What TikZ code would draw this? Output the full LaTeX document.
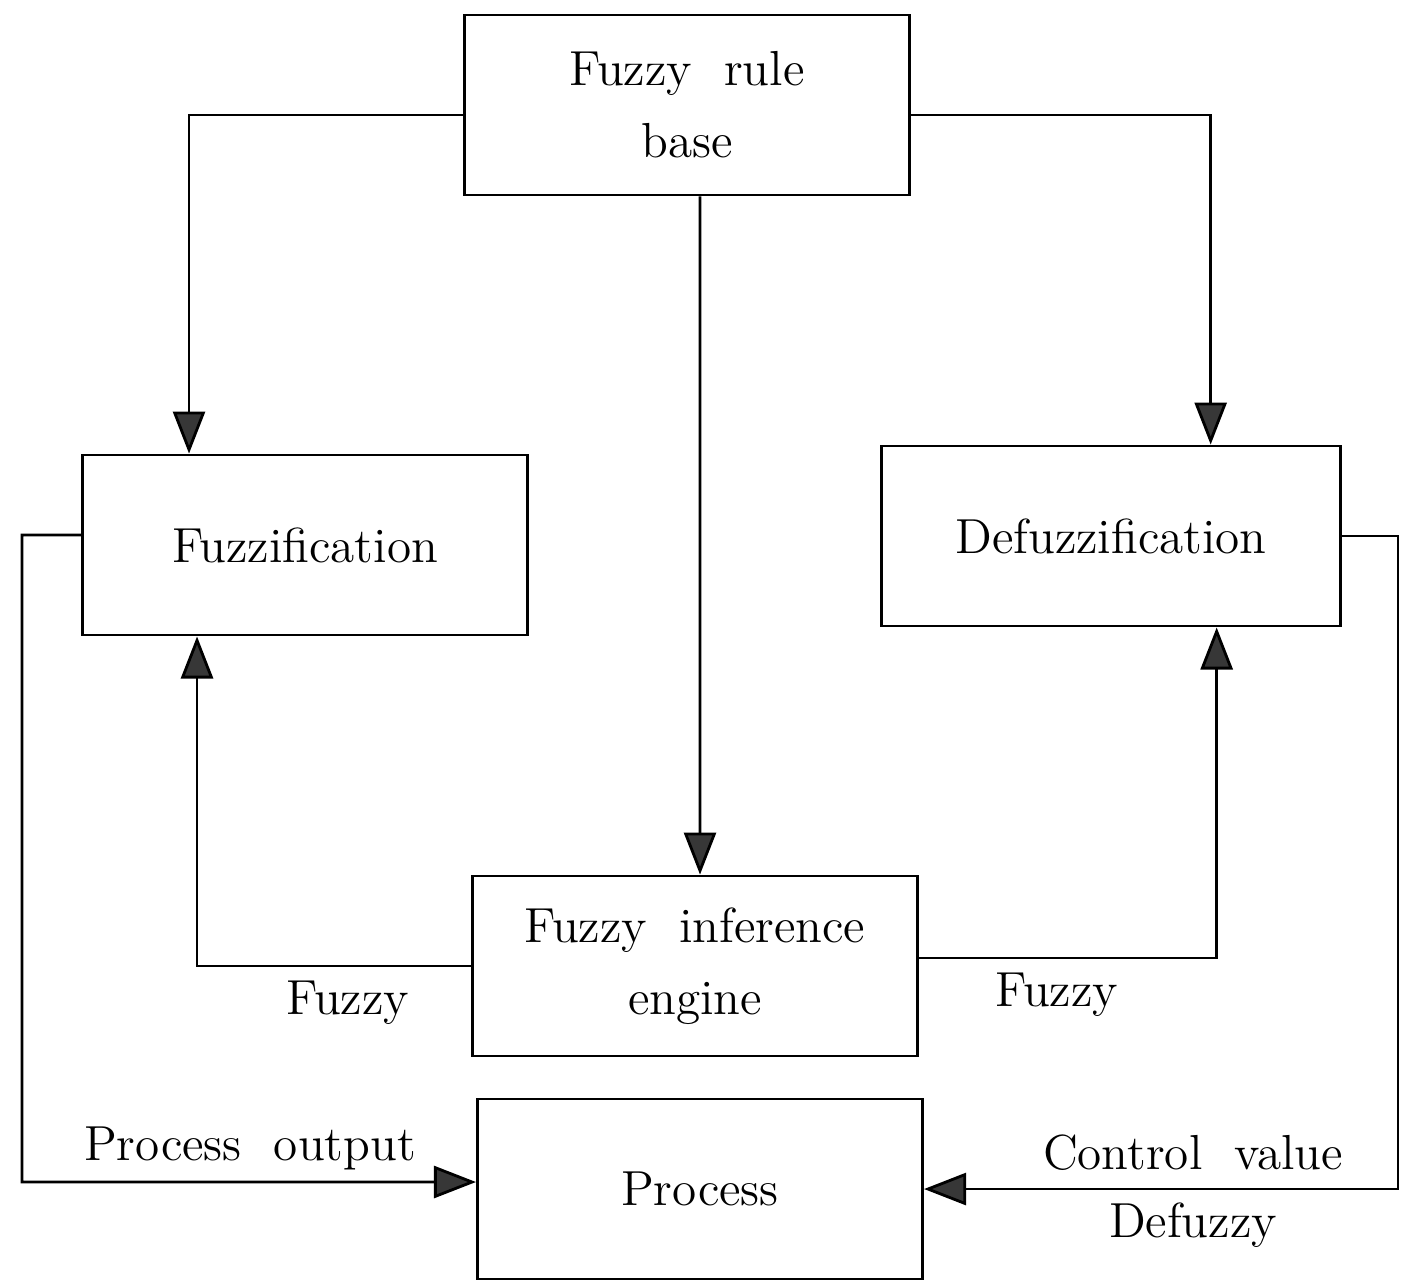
\documentclass[tikz,border=0pt]{standalone}
\usetikzlibrary{arrows.meta}
\definecolor{tipgray}{RGB}{55,55,55}
\begin{document}
\begin{tikzpicture}[x=0.01cm, y=-0.01cm, font=\fontsize{14}{20.5}\selectfont,
		block/.style={draw, line width=0.8pt, minimum width=4.45cm, minimum height=1.8cm, align=center},
		flow/.style={line width=0.8pt, -{Triangle[length=0.42cm, width=0.32cm, fill=tipgray]}}]
		\useasboundingbox (0,0) rectangle (1401,1281);
		% blocks, one x unit is one pixel of the figure
		\node[block] (rule) at (687,105) {Fuzzy\ \ rule\\base};
		\node[block] (fuzz) at (305,545) {Fuzzification};
		\node[block, minimum width=4.58cm] (defuzz) at (1111,536) {Defuzzification};
		\node[block] (infer) at (695,966) {Fuzzy\ \ inference\\engine};
		\node[block] (proc) at (700,1189) {Process};
		% corners of the outer loop
		\coordinate (loopL) at (22,1182);
		\coordinate (loopR) at (1398,1189);
		% rule base to the three stages
		\draw[flow] ([yshift=-0.1cm]rule.west) -| ([xshift=1.08cm]fuzz.north west);
		\draw[flow] ([yshift=-0.1cm]rule.east) -| ([xshift=3.3cm]defuzz.north west);
		\draw[flow] ([xshift=0.13cm]rule.south) -- ([xshift=0.05cm]infer.north);
		% inference engine back to both sides
		\draw[flow] (infer.west) -| ([xshift=1.16cm]fuzz.south west);
		\draw[flow] ([yshift=0.08cm]infer.east) -| ([xshift=3.36cm]defuzz.south west);
		\node (fuzzyL) at (348,1003) {Fuzzy};
		\node (fuzzyR) at (1057,995) {Fuzzy};
		% outer loop through the process
		\draw[flow] ([yshift=0.1cm]fuzz.west) -| (loopL) -- ([yshift=0.07cm]proc.west);
		\draw[flow] (defuzz.east) -| (loopR) -- (proc.east);
		\node (procout) at (250,1148) {Process\ \ output};
		\node (ctrl) at (1193,1153) {Control\ \ value};
		\node (defz) at (1193,1225) {Defuzzy};
	\end{tikzpicture}
\end{document}
